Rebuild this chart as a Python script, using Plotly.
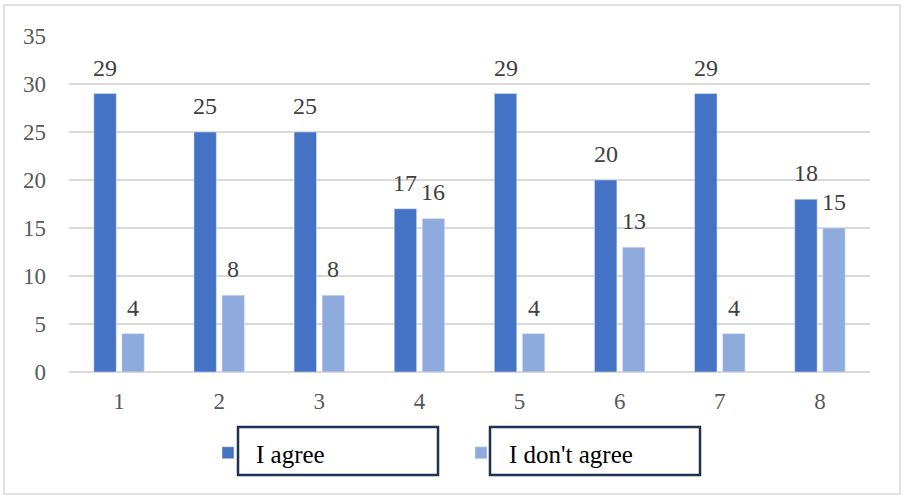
import plotly.graph_objects as go

categories = ["1", "2", "3", "4", "5", "6", "7", "8"]
agree = [29, 25, 25, 17, 29, 20, 29, 18]
disagree = [4, 8, 8, 16, 4, 13, 4, 15]
y_ticks = [0, 5, 10, 15, 20, 25, 30, 35]

FONT = "'Liberation Serif', 'Times New Roman', serif"
W, H = 905, 496
L, R, T, B = 69, 35, 36, 124
pw, ph = W - L - R, H - T - B
BARGAP, GROUPGAP = 0.44, 0.2
cat_px = pw / len(categories)
half_slot = (1 - BARGAP) / 4 * cat_px  # offset of each bar centre from the category centre

def px_x(x):
    return (x - L) / pw

def px_y(y):
    return (H - B - y) / ph

fig = go.Figure()
fig.add_trace(go.Bar(x=categories, y=agree, name="I agree", marker_color="#4472C4"))
fig.add_trace(go.Bar(x=categories, y=disagree, name="I don't agree", marker_color="#8FAADC"))

annotations = []
for series, sh in ((agree, -half_slot), (disagree, half_slot)):
    for i, v in enumerate(series):
        annotations.append(dict(x=i, y=v, xref="x", yref="y", text=str(v), showarrow=False,
                                xshift=sh, yshift=11, yanchor="bottom", xanchor="center",
                                font=dict(family=FONT, size=24, color="#404040")))

shapes = [
    dict(type="rect", xref="paper", yref="paper", x0=px_x(4), x1=px_x(900), y0=px_y(494), y1=px_y(5),
         line=dict(color="#d9d9d9", width=1.5), fillcolor="rgba(0,0,0,0)", layer="below"),
    dict(type="rect", xref="paper", yref="paper", x0=px_x(238), x1=px_x(438), y0=px_y(475), y1=px_y(427),
         line=dict(color="#1f3050", width=2.5)),
    dict(type="rect", xref="paper", yref="paper", x0=px_x(490), x1=px_x(700), y0=px_y(475), y1=px_y(427),
         line=dict(color="#1f3050", width=2.5)),
]

fig.update_layout(
    width=W, height=H,
    margin=dict(l=L, r=R, t=T, b=B, pad=0, autoexpand=False),
    paper_bgcolor="white", plot_bgcolor="white",
    barmode="group", bargap=BARGAP, bargroupgap=GROUPGAP,
    font=dict(family=FONT, size=23, color="#595959"),
    showlegend=True,
    legend=dict(orientation="h", x=px_x(200), y=px_y(453), xanchor="left", yanchor="middle",
                font=dict(family=FONT, size=25, color="#000000"),
                entrywidth=192, entrywidthmode="pixels",
                itemwidth=46, bgcolor="rgba(0,0,0,0)"),
    shapes=shapes,
    annotations=annotations,
    xaxis=dict(type="category", range=[-0.5, len(categories) - 0.5],
               showgrid=False, showline=False, ticks="", tickfont=dict(size=23, color="#595959"),
               ticklabelstandoff=13),
    yaxis=dict(range=[0, 35], tickvals=y_ticks, showgrid=True, gridcolor="#d9d9d9", gridwidth=1.5,
               zeroline=True, zerolinecolor="#d9d9d9", zerolinewidth=2, showline=False, ticks="",
               tickfont=dict(size=23, color="#595959"), ticklabelstandoff=22),
)

fig.write_html("out.html", config={"displayModeBar": False},
               post_script="document.body.style.margin='0';document.body.style.overflow='hidden';")
